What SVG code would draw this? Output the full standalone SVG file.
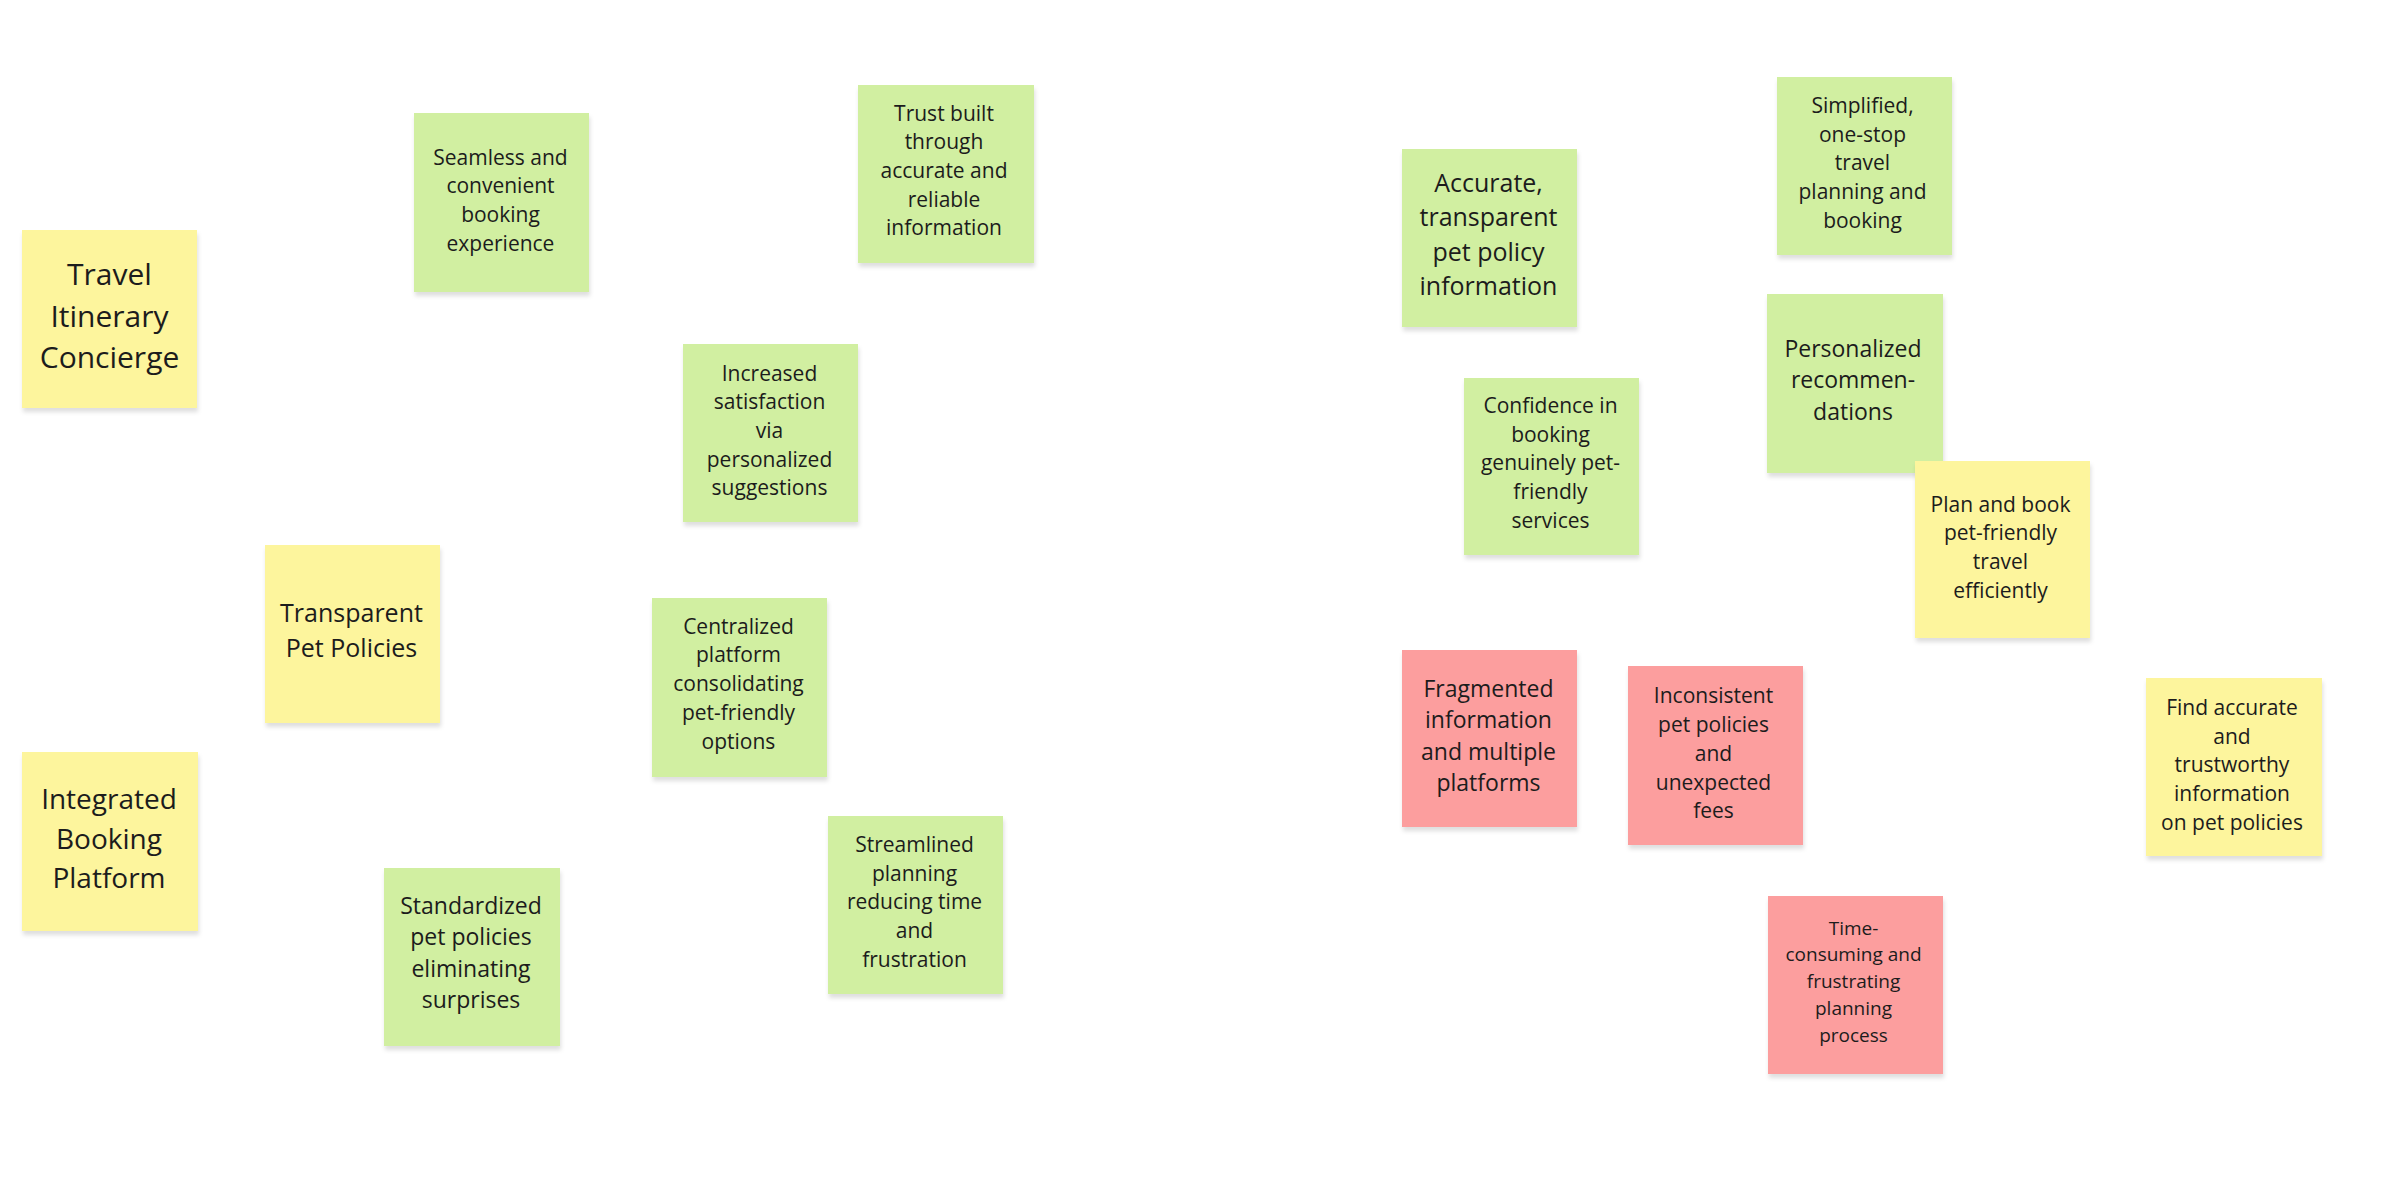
<svg xmlns="http://www.w3.org/2000/svg" width="2398" height="1181" viewBox="0 0 2398 1181">
<defs>
<filter id="sh" x="-10%" y="-10%" width="120%" height="125%">
<feDropShadow dx="1" dy="4" stdDeviation="2" flood-color="#000" flood-opacity="0.13"/>
</filter>
</defs>
<style>
.n{filter:url(#sh)}
.g{fill:#d1efa1}
.y{fill:#fdf59d}
.r{fill:#fc9e9e}
text{font-family:"Open Sans","Noto Sans","Liberation Sans",sans-serif;fill:#1c1c1c;text-anchor:middle}
.f19{font-size:19px}
.f21{font-size:21px}
.f23{font-size:23px}
.f25{font-size:25px}
.f28{font-size:28px}
.f30{font-size:30px}
</style>
<rect width="2398" height="1181" fill="#ffffff"/>
<g id="connectors"/>

<g id="travel-itinerary-concierge">
<rect class="n y" x="22" y="230" width="175" height="178"/>
<text class="f30"><tspan x="109.5" y="285">Travel</tspan><tspan x="109.5" y="327">Itinerary</tspan><tspan x="109.5" y="368">Concierge</tspan></text>
</g>

<g id="seamless-booking">
<rect class="n g" x="414" y="113" width="175" height="179"/>
<text class="f21"><tspan x="500.5" y="164.6">Seamless and</tspan><tspan x="500.5" y="193.3">convenient</tspan><tspan x="500.5" y="222">booking</tspan><tspan x="500.5" y="250.7">experience</tspan></text>
</g>

<g id="trust-built">
<rect class="n g" x="858" y="85" width="176" height="178"/>
<text class="f21"><tspan x="944" y="120.5">Trust built</tspan><tspan x="944" y="149.2">through</tspan><tspan x="944" y="177.9">accurate and</tspan><tspan x="944" y="206.6">reliable</tspan><tspan x="944" y="235.3">information</tspan></text>
</g>

<g id="increased-satisfaction">
<rect class="n g" x="683" y="344" width="175" height="178"/>
<text class="f21"><tspan x="769.5" y="380.5">Increased</tspan><tspan x="769.5" y="409.2">satisfaction</tspan><tspan x="769.5" y="437.9">via</tspan><tspan x="769.5" y="466.6">personalized</tspan><tspan x="769.5" y="495.3">suggestions</tspan></text>
</g>

<g id="transparent-pet-policies">
<rect class="n y" x="265" y="545" width="175" height="178"/>
<text class="f25"><tspan x="351.5" y="622">Transparent</tspan><tspan x="351.5" y="657">Pet Policies</tspan></text>
</g>

<g id="centralized-platform">
<rect class="n g" x="652" y="598" width="175" height="179"/>
<text class="f21"><tspan x="738.5" y="633.7">Centralized</tspan><tspan x="738.5" y="662.4">platform</tspan><tspan x="738.5" y="691.1">consolidating</tspan><tspan x="738.5" y="719.8">pet-friendly</tspan><tspan x="738.5" y="748.5">options</tspan></text>
</g>

<g id="integrated-booking-platform">
<rect class="n y" x="22" y="752" width="176" height="179"/>
<text class="f28"><tspan x="109" y="809">Integrated</tspan><tspan x="109" y="848.5">Booking</tspan><tspan x="109" y="888">Platform</tspan></text>
</g>

<g id="standardized-pet-policies">
<rect class="n g" x="384" y="868" width="176" height="178"/>
<text class="f23"><tspan x="471" y="913.5">Standardized</tspan><tspan x="471" y="945">pet policies</tspan><tspan x="471" y="976.5">eliminating</tspan><tspan x="471" y="1008">surprises</tspan></text>
</g>

<g id="streamlined-planning">
<rect class="n g" x="828" y="816" width="175" height="178"/>
<text class="f21"><tspan x="914.5" y="852">Streamlined</tspan><tspan x="914.5" y="880.7">planning</tspan><tspan x="914.5" y="909.4">reducing time</tspan><tspan x="914.5" y="938.1">and</tspan><tspan x="914.5" y="966.8">frustration</tspan></text>
</g>

<g id="accurate-pet-policy-info">
<rect class="n g" x="1402" y="149" width="175" height="178"/>
<text class="f25"><tspan x="1488.5" y="192">Accurate,</tspan><tspan x="1488.5" y="226.3">transparent</tspan><tspan x="1488.5" y="260.6">pet policy</tspan><tspan x="1488.5" y="294.9">information</tspan></text>
</g>

<g id="confidence-in-booking">
<rect class="n g" x="1464" y="378" width="175" height="177"/>
<text class="f21"><tspan x="1550.5" y="413">Confidence in</tspan><tspan x="1550.5" y="441.7">booking</tspan><tspan x="1550.5" y="470.4">genuinely pet-</tspan><tspan x="1550.5" y="499.1">friendly</tspan><tspan x="1550.5" y="527.8">services</tspan></text>
</g>

<g id="fragmented-information">
<rect class="n r" x="1402" y="650" width="175" height="177"/>
<text class="f23"><tspan x="1488.5" y="697">Fragmented</tspan><tspan x="1488.5" y="728.3">information</tspan><tspan x="1488.5" y="759.6">and multiple</tspan><tspan x="1488.5" y="790.9">platforms</tspan></text>
</g>

<g id="simplified-one-stop">
<rect class="n g" x="1777" y="77" width="175" height="178"/>
<text class="f21"><tspan x="1862.5" y="113">Simplified,</tspan><tspan x="1862.5" y="141.7">one-stop</tspan><tspan x="1862.5" y="170.4">travel</tspan><tspan x="1862.5" y="199.1">planning and</tspan><tspan x="1862.5" y="227.8">booking</tspan></text>
</g>

<g id="personalized-recommendations">
<rect class="n g" x="1767" y="294" width="176" height="179"/>
<text class="f23"><tspan x="1853" y="356.7">Personalized</tspan><tspan x="1853" y="388.1">recommen-</tspan><tspan x="1853" y="419.5">dations</tspan></text>
</g>

<g id="plan-and-book">
<rect class="n y" x="1915" y="461" width="175" height="177"/>
<text class="f21"><tspan x="2000.5" y="511.7">Plan and book</tspan><tspan x="2000.5" y="540.4">pet-friendly</tspan><tspan x="2000.5" y="569.1">travel</tspan><tspan x="2000.5" y="597.8">efficiently</tspan></text>
</g>

<g id="inconsistent-pet-policies">
<rect class="n r" x="1628" y="666" width="175" height="179"/>
<text class="f21"><tspan x="1713.5" y="703.4">Inconsistent</tspan><tspan x="1713.5" y="732.1">pet policies</tspan><tspan x="1713.5" y="760.8">and</tspan><tspan x="1713.5" y="789.5">unexpected</tspan><tspan x="1713.5" y="818.2">fees</tspan></text>
</g>

<g id="find-accurate-information">
<rect class="n y" x="2146" y="678" width="176" height="178"/>
<text class="f21"><tspan x="2232" y="715">Find accurate</tspan><tspan x="2232" y="743.7">and</tspan><tspan x="2232" y="772.4">trustworthy</tspan><tspan x="2232" y="801.1">information</tspan><tspan x="2232" y="829.8">on pet policies</tspan></text>
</g>

<g id="time-consuming-planning">
<rect class="n r" x="1768" y="896" width="175" height="178"/>
<text class="f19"><tspan x="1853.5" y="934.5">Time-</tspan><tspan x="1853.5" y="961.3">consuming and</tspan><tspan x="1853.5" y="988.1">frustrating</tspan><tspan x="1853.5" y="1014.9">planning</tspan><tspan x="1853.5" y="1041.7">process</tspan></text>
</g>
</svg>
